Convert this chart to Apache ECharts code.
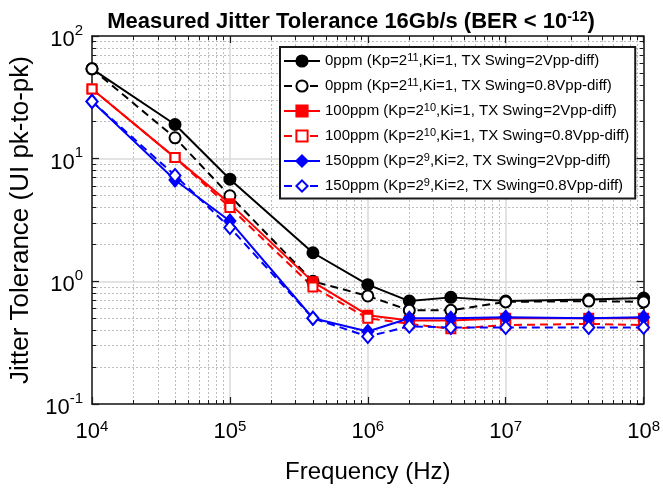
<!DOCTYPE html>
<html>
<head>
<meta charset="utf-8">
<script src="https://cdn.jsdelivr.net/npm/echarts@6.0.0/dist/echarts.min.js"></script>
<style>
html, body { margin: 0; padding: 0; background: #fff; }
#main { width: 663px; height: 489px; }
</style>
</head>
<body>
<div id="main"></div>
<script>
//频率点 (Hz)
var freq = [1e4, 4e4, 1e5, 4e5, 1e6, 2e6, 4e6, 1e7, 4e7, 1e8];
//各曲线抖动容限 (UI pk-to-pk)
var jt0ppm2V = [54, 19.0, 6.8, 1.71, 0.94, 0.69, 0.74, 0.69, 0.71, 0.73];
var jt0ppm08V = [54, 14.8, 4.98, 1.0, 0.76, 0.58, 0.58, 0.68, 0.69, 0.68];
var jt100ppm2V = [37, 10.2, 4.3, 0.99, 0.53, 0.48, 0.48, 0.50, 0.50, 0.50];
var jt100ppm08V = [37, 10.2, 4.0, 0.90, 0.50, 0.45, 0.41, 0.44, 0.45, 0.44];
var jt150ppm2V = [29.3, 6.7, 3.1, 0.50, 0.39, 0.50, 0.50, 0.51, 0.50, 0.51];
var jt150ppm08V = [29.3, 7.3, 2.75, 0.50, 0.355, 0.43, 0.42, 0.42, 0.42, 0.42];
//图例名称 (^ 后为上标)
var seriesNames = [
	'0ppm (Kp=2^11,Ki=1, TX Swing=2Vpp-diff)',
	'0ppm (Kp=2^11,Ki=1, TX Swing=0.8Vpp-diff)',
	'100ppm (Kp=2^10,Ki=1, TX Swing=2Vpp-diff)',
	'100ppm (Kp=2^10,Ki=1, TX Swing=0.8Vpp-diff)',
	'150ppm (Kp=2^9,Ki=2, TX Swing=2Vpp-diff)',
	'150ppm (Kp=2^9,Ki=2, TX Swing=0.8Vpp-diff)'
];

var FONT = 'Liberation Sans, Arial, Helvetica, sans-serif';
var AXIS_COLOR = '#1a1a1a';

var toPairs = function(vals) {
	return freq.map(function(f, i) {
		return [f, vals[i]];
	});
};

//10^n 刻度标签
var powLabel = function(v) {
	var e = Math.round(Math.log(v) / Math.LN10);
	return '{b|10}{e|' + e + '}';
};

var logAxis = function(min, max, position, isMain, isY) {
	return {
		type: 'log',
		logBase: 10,
		min: min,
		max: max,
		position: position,
		axisLine: {
			show: true,
			lineStyle: { color: AXIS_COLOR, width: 1.5 }
		},
		axisTick: {
			show: true,
			inside: true,
			length: 7,
			lineStyle: { color: AXIS_COLOR, width: 1.2 }
		},
		minorTick: {
			show: true,
			splitNumber: 9,
			length: 4,
			lineStyle: { color: AXIS_COLOR, width: 1 }
		},
		splitLine: {
			show: isMain,
			lineStyle: { color: '#dadada', width: 1.5 }
		},
		minorSplitLine: {
			show: isMain,
			lineStyle: { color: '#bdbdbd', width: 1, type: [2, 2] }
		},
		axisLabel: {
			show: isMain,
			margin: isY ? 9 : 15,
			color: '#000',
			fontFamily: FONT,
			formatter: powLabel,
			rich: {
				b: { fontSize: 22, fontFamily: FONT, color: '#000', padding: isY ? [8, 0, 0, 0] : [0, 0, 0, 0] },
				e: { fontSize: 15, fontFamily: FONT, color: '#000', padding: [0, 0, 11, 0] }
			}
		}
	};
};

var makeSeries = function(idx, vals, color, dashed, symbol, size, filled) {
	return {
		name: seriesNames[idx],
		type: 'line',
		data: toPairs(vals),
		symbol: symbol,
		symbolSize: size,
		showAllSymbol: true,
		lineStyle: { color: color, width: 2, type: dashed ? [8, 5] : 'solid' },
		itemStyle: {
			color: filled ? color : '#fff',
			borderColor: color,
			borderWidth: 2
		},
		emphasis: { disabled: true }
	};
};

var chart = echarts.init(document.getElementById('main'));
chart.setOption({
	animation: false,
	backgroundColor: '#fff',
	title: {
		text: '{t|Measured Jitter Tolerance 16Gb/s (BER < 10}{s|-12}{t|)}',
		left: 346,
		textAlign: 'center',
		top: 5,
		textStyle: {
			rich: {
				t: { fontSize: 22, fontWeight: 'bold', fontFamily: FONT, color: '#000' },
				s: { fontSize: 14, fontWeight: 'bold', fontFamily: FONT, color: '#000', padding: [0, 0, 10, 0] }
			}
		}
	},
	legend: {
		orient: 'vertical',
		left: 280,
		top: 47,
		padding: [5, 6, 5, 3],
		itemGap: 8.5,
		itemWidth: 36,
		itemHeight: 14,
		backgroundColor: '#fff',
		borderColor: '#1a1a1a',
		borderWidth: 2,
		selectedMode: false,
		data: seriesNames,
		formatter: function(name) {
			return '{t|' + name.replace(/\^(\d+)/, '}{s|$1}{t|') + '}';
		},
		textStyle: {
			fontFamily: FONT,
			color: '#000',
			rich: {
				t: { fontSize: 15, fontFamily: FONT, color: '#000', lineHeight: 16 },
				s: { fontSize: 11, fontFamily: FONT, color: '#000', padding: [0, 0, 7, 0] }
			}
		}
	},
	grid: {
		left: 92,
		right: 18,
		top: 36,
		bottom: 83,
		containLabel: false
	},
	xAxis: [
		echarts.util.merge(logAxis(1e4, 1e8, 'bottom', true, false), {
			name: 'Frequency (Hz)',
			nameLocation: 'middle',
			nameGap: 56,
			nameTextStyle: { fontSize: 24, fontFamily: FONT, color: '#000' }
		}),
		logAxis(1e4, 1e8, 'top', false, false)
	],
	yAxis: [
		echarts.util.merge(logAxis(0.1, 100, 'left', true, true), {
			name: 'Jitter Tolerance (UI pk-to-pk)',
			nameLocation: 'middle',
			nameGap: 56,
			nameTextStyle: { fontSize: 26, fontFamily: FONT, color: '#000' }
		}),
		logAxis(0.1, 100, 'right', false, true)
	],
	series: [
		makeSeries(0, jt0ppm2V, '#000', false, 'circle', 11, true),
		makeSeries(1, jt0ppm08V, '#000', true, 'circle', 11, false),
		makeSeries(2, jt100ppm2V, '#ff0000', false, 'rect', 9, true),
		makeSeries(3, jt100ppm08V, '#ff0000', true, 'rect', 9, false),
		makeSeries(4, jt150ppm2V, '#0000ff', false, 'diamond', [11, 13], true),
		makeSeries(5, jt150ppm08V, '#0000ff', true, 'diamond', [11, 13], false)
	]
});
</script>
</body>
</html>
